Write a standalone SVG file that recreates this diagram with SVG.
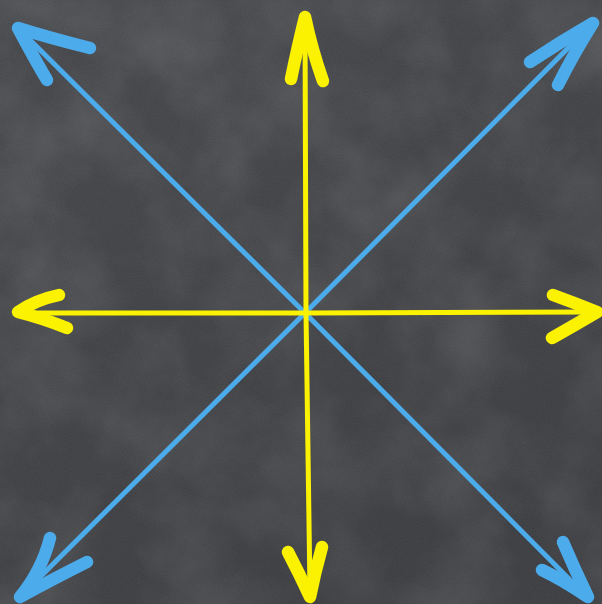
<svg xmlns="http://www.w3.org/2000/svg" width="602" height="604" viewBox="0 0 602 604">
<defs>
<filter id="chalk" x="0" y="0" width="100%" height="100%">
<feTurbulence type="fractalNoise" baseFrequency="0.012" numOctaves="4" seed="7" result="n"/>
<feColorMatrix in="n" type="matrix" values="0 0 0 0 1  0 0 0 0 1  0 0 0 0 1  0.9 0.3 0 0 -0.45" result="w"/>
<feComposite in="w" in2="SourceGraphic" operator="in"/>
</filter>
<filter id="grain" x="0" y="0" width="100%" height="100%">
<feTurbulence type="fractalNoise" baseFrequency="0.9" numOctaves="2" seed="3" result="g"/>
<feColorMatrix in="g" type="matrix" values="0 0 0 0 0.6  0 0 0 0 0.6  0 0 0 0 0.62  0 0 0 0.3 0"/>
</filter>
<linearGradient id="shade" x1="0" y1="0" x2="0.4" y2="1">
<stop offset="0" stop-color="#000" stop-opacity="0"/>
<stop offset="1" stop-color="#000" stop-opacity="0.12"/>
</linearGradient>
<style>
.shaft{fill:none;stroke-linecap:round;stroke-width:5}
.barb{fill:none;stroke-linecap:round;stroke-linejoin:round;stroke-width:12.5}
.y{stroke:#faf200}
.b{stroke:#4cabea}
</style>
</defs>
<rect width="602" height="604" fill="#434448"/>
<rect width="602" height="604" fill="#434448" filter="url(#chalk)" opacity="0.22"/>
<rect width="602" height="604" filter="url(#grain)" opacity="0.35"/>
<rect width="602" height="604" fill="url(#shade)"/>
<g id="connectors">
<g id="arrow-nw"><line class="shaft b" x1="305" y1="313" x2="22" y2="32"/><path class="barb b" d="M90 48 Q50 38 18 28 Q35 60 47 80"/></g>
<g id="arrow-ne"><line class="shaft b" x1="305" y1="313" x2="588" y2="28"/><path class="barb b" d="M530 62 Q560 42 593 23 Q573 55 558 85"/></g>
<g id="arrow-sw"><line class="shaft b" x1="305" y1="313" x2="25" y2="592"/><path class="barb b" d="M50 538 Q42 570 20 597 Q55 578 87 562"/></g>
<g id="arrow-se"><line class="shaft b" x1="305" y1="313" x2="584" y2="594"/><path class="barb b" d="M563 542 Q575 570 588 597 Q563 580 542 570"/></g>
<g id="arrow-n"><line class="shaft y" x1="306" y1="313" x2="305" y2="22"/><path class="barb y" d="M291 79 Q298 45 305 17 Q312 50 323 81"/></g>
<g id="arrow-s"><line class="shaft y" x1="306" y1="313" x2="310" y2="592"/><path class="barb y" d="M288 552 Q300 575 310 597 Q315 572 322 547"/></g>
<g id="arrow-w"><line class="shaft y" x1="306" y1="313" x2="22" y2="313"/><path class="barb y" d="M59 295 Q35 300 18 312 Q42 318 67 328"/></g>
<g id="arrow-e"><line class="shaft y" x1="306" y1="313" x2="594" y2="312"/><path class="barb y" d="M553 295 Q575 303 597 312 Q575 325 552 338"/></g>
</g>
</svg>
